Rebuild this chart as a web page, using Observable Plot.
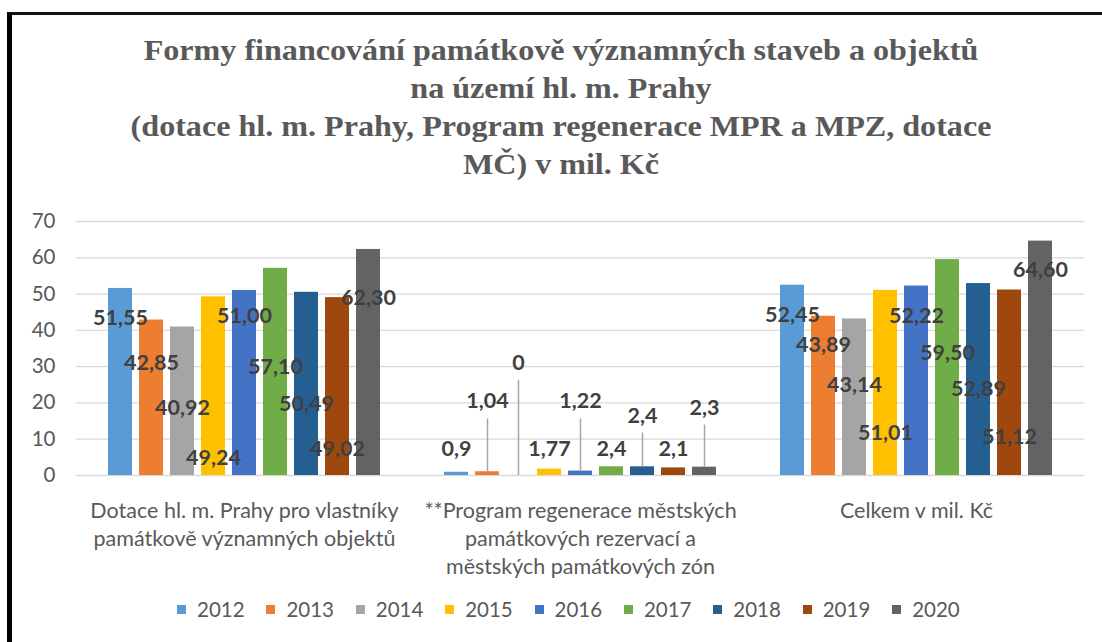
<!DOCTYPE html>
<html>
<head>
<meta charset="utf-8">
<script src="https://cdn.jsdelivr.net/npm/d3@7"></script>
<script src="https://cdn.jsdelivr.net/npm/@observablehq/plot@0.6"></script>
<style>
  html, body { margin: 0; padding: 0; background: #fff; width: 1102px; height: 642px; overflow: hidden; }
  #frame { position: absolute; left: 7px; top: 12px; width: 1200px; height: 700px; border-top: 3px solid #111; border-left: 5px solid #000; box-sizing: border-box; }
  #title { position: absolute; left: 61px; top: 31px; width: 1000px; text-align: center; font-family: "Liberation Serif", "Times New Roman", serif; font-weight: bold; font-size: 30px; line-height: 38px; color: #595959; transform: scaleX(1.07); }
  #chart { position: absolute; left: 0; top: 190px; }
  #legend { position: absolute; left: 177px; top: 598px; display: flex; font-family: Lato, sans-serif; font-size: 20.5px; color: #595959; line-height: 22px; }
  .item { display: flex; align-items: center; width: 89.4px; }
  .sw { width: 9px; height: 9px; margin-right: 11px; flex: none; }
</style>
</head>
<body>
<div id="frame"></div>
<div id="title">Formy financování památkově významných staveb a objektů<br>na území hl. m. Prahy<br>(dotace hl. m. Prahy, Program regenerace MPR a MPZ, dotace<br>MČ) v mil. Kč</div>
<div id="chart"></div>
<div id="legend"></div>
<script>
// ---- data ----
const categories = [
  "Dotace hl. m. Prahy pro vlastníky\npamátkově významných objektů",
  "**Program regenerace městských\npamátkových rezervací a\nměstských památkových zón",
  "Celkem v mil. Kč"
];
const years = ["2012", "2013", "2014", "2015", "2016", "2017", "2018", "2019", "2020"];
const colors = ["#5B9BD5", "#ED7D31", "#A5A5A5", "#FFC000", "#4472C4", "#70AD47", "#255E91", "#9E480E", "#636363"];
const dotaceHMP = [51.55, 42.85, 40.92, 49.24, 51.00, 57.10, 50.49, 49.02, 62.30];
const programRegenerace = [0.9, 1.04, 0, 1.77, 1.22, 2.4, 2.4, 2.1, 2.3];
const celkem = [52.45, 43.89, 43.14, 51.01, 52.22, 59.50, 52.89, 51.12, 64.60];
// where the data labels sit on the value axis in the original
const labelAtDotace = [43.5, 31, 18.7, 4.7, 43.8, 30, 19.8, 7.4, 49];
const labelAtProgram = [7.2, 20.4, 31, 7.2, 20.4, 7.2, 16.5, 7.2, 18.7];
const labelAtCelkem = [44.3, 36, 25, 11.8, 44, 33.8, 23.7, 10.7, 56.7];
const yTicks = [0, 10, 20, 30, 40, 50, 60, 70];

// ---- table ----
const series = [
  {cat: categories[0], values: dotaceHMP, labelAt: labelAtDotace, fmt: v => v.toFixed(2).replace(".", ",")},
  {cat: categories[1], values: programRegenerace, labelAt: labelAtProgram, fmt: v => String(v).replace(".", ",")},
  {cat: categories[2], values: celkem, labelAt: labelAtCelkem, fmt: v => v.toFixed(2).replace(".", ",")}
];
const rows = series.flatMap((s, si) => years.map((y, i) => ({
  category: s.cat, year: y, value: s.values[i], labelAt: s.labelAt[i],
  label: s.fmt(s.values[i]), leader: si === 1 && s.labelAt[i] - s.values[i] > 10
})));
const leaders = rows.filter(d => d.leader);

const chart = Plot.plot({
  width: 1102,
  height: 400,
  marginLeft: 76,
  marginRight: 18,
  marginTop: 31,
  marginBottom: 115,
  style: {fontFamily: "Lato, sans-serif", color: "#595959", background: "transparent"},
  fx: {domain: categories, padding: 0, axis: null, label: null},
  x: {domain: years, paddingInner: 0.219, paddingOuter: 0.86, axis: null},
  y: {domain: [0, 70], axis: null},
  color: {domain: years, range: colors},
  marks: [
    Plot.gridY(yTicks, {stroke: "#d9d9d9", strokeOpacity: 1, strokeWidth: 1.3}),
    Plot.axisY(yTicks, {anchor: "left", tickSize: 0, tickPadding: 21, fontSize: 20.5, fill: "#595959", label: null}),
    Plot.axisFx({anchor: "bottom", tickSize: 0, tickPadding: 23, fontSize: 21.5, lineHeight: 1.3, fill: "#595959", label: null}),
    Plot.barY(rows, {fx: "category", x: "year", y: "value", fill: "year"}),
    Plot.ruleX(leaders, {fx: "category", x: "year", y1: "value", y2: d => d.labelAt - 4.8, stroke: "#a6a6a6", strokeWidth: 1.5}),
    Plot.text(rows, {fx: "category", x: "year", y: "labelAt", text: "label", fill: "#404040", fontWeight: "bold", fontSize: 21.5})
  ]
});
document.getElementById("chart").appendChild(chart);

// ---- legend ----
const legend = document.getElementById("legend");
years.forEach((y, i) => {
  const item = document.createElement("div");
  item.className = "item";
  const sw = document.createElement("span");
  sw.className = "sw";
  sw.style.background = colors[i];
  const t = document.createElement("span");
  t.textContent = y;
  item.appendChild(sw);
  item.appendChild(t);
  legend.appendChild(item);
});
</script>
</body>
</html>
